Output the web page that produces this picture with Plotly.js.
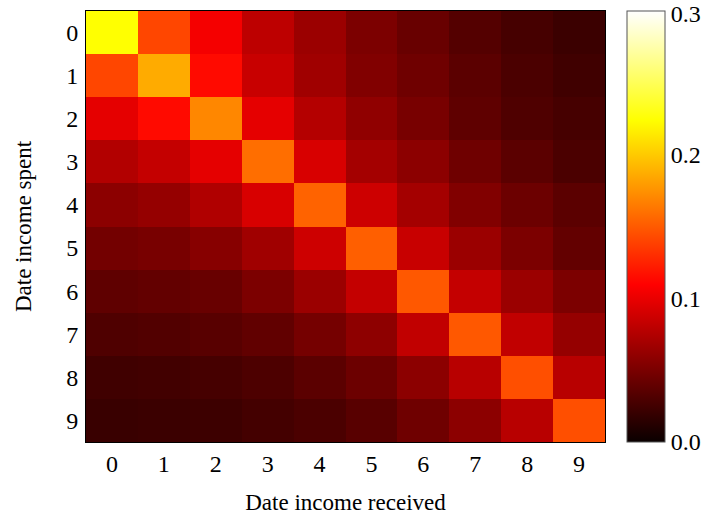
<!DOCTYPE html>
<html>
<head>
<meta charset="utf-8">
<script src="https://cdn.plot.ly/plotly-3.0.1.min.js"></script>
<style>html,body{margin:0;padding:0;background:#fff;}#chart{width:715px;height:523px;}</style>
</head>
<body>
<div id="chart"></div>
<script>
var dateReceived = [0, 1, 2, 3, 4, 5, 6, 7, 8, 9];
var dateSpent = [0, 1, 2, 3, 4, 5, 6, 7, 8, 9];
var row0 = [0.224, 0.141, 0.105, 0.080, 0.065, 0.051, 0.042, 0.033, 0.027, 0.022];
var row1 = [0.141, 0.186, 0.114, 0.085, 0.067, 0.053, 0.045, 0.036, 0.029, 0.024];
var row2 = [0.098, 0.114, 0.170, 0.098, 0.076, 0.060, 0.049, 0.038, 0.031, 0.027];
var row3 = [0.075, 0.083, 0.098, 0.159, 0.092, 0.069, 0.058, 0.045, 0.036, 0.029];
var row4 = [0.058, 0.062, 0.074, 0.092, 0.154, 0.087, 0.069, 0.053, 0.044, 0.036];
var row5 = [0.047, 0.049, 0.056, 0.067, 0.087, 0.152, 0.085, 0.065, 0.051, 0.040];
var row6 = [0.038, 0.040, 0.042, 0.051, 0.065, 0.083, 0.149, 0.083, 0.065, 0.051];
var row7 = [0.031, 0.032, 0.035, 0.039, 0.048, 0.059, 0.082, 0.149, 0.082, 0.062];
var row8 = [0.024, 0.025, 0.027, 0.030, 0.036, 0.044, 0.058, 0.078, 0.145, 0.078];
var row9 = [0.021, 0.022, 0.023, 0.026, 0.029, 0.035, 0.045, 0.058, 0.078, 0.145];
var colorbarTicks = [0.0, 0.1, 0.2, 0.3];
var colorbarTickText = ['0.0', '0.1', '0.2', '0.3'];

var zValues = [row0, row1, row2, row3, row4, row5, row6, row7, row8, row9];
var zMin = 0, zMax = 0.3;

var hotScale = [
  [0, 'rgb(10,0,0)'],
  [0.365079, 'rgb(255,0,0)'],
  [0.746032, 'rgb(255,255,0)'],
  [1, 'rgb(255,255,255)']
];

var fam = '"Liberation Serif", "DejaVu Serif", serif';
var tickFont = {family: fam, size: 24, color: '#000'};
var titleFont = {family: fam, size: 23, color: '#000'};

// keep the top label a touch inside so it is not cut at the page edge
var cbTickVals = colorbarTicks.map(function (v) {
  return Math.min(Math.max(v, zMin + 1e-6), zMax - 0.002);
});

var trace = {
  type: 'heatmap',
  x: dateReceived,
  y: dateSpent,
  z: zValues,
  zmin: zMin,
  zmax: zMax,
  colorscale: hotScale,
  showscale: true,
  colorbar: {
    thickness: 38,
    thicknessmode: 'pixels',
    len: 1,
    lenmode: 'fraction',
    x: 1.0424,
    xanchor: 'left',
    xpad: 0,
    y: 0.5,
    yanchor: 'middle',
    ypad: 0,
    outlinewidth: 1,
    outlinecolor: '#555',
    tickmode: 'array',
    tickvals: cbTickVals,
    ticktext: colorbarTickText,
    ticks: '',
    ticklen: 0,
    ticklabelstandoff: 4,
    ticklabeloverflow: 'allow',
    tickfont: tickFont
  }
};

var layout = {
  width: 715,
  height: 523,
  margin: {l: 86, r: 110, t: 11, b: 81},
  paper_bgcolor: '#fff',
  plot_bgcolor: '#fff',
  font: tickFont,
  xaxis: {
    tickmode: 'array',
    tickvals: dateReceived,
    ticktext: dateReceived.map(String),
    ticks: '',
    showline: true,
    mirror: true,
    linecolor: '#000',
    linewidth: 1,
    showgrid: false,
    zeroline: false,
    tickfont: tickFont,
    title: {text: 'Date income received', font: titleFont, standoff: 18}
  },
  yaxis: {
    autorange: 'reversed',
    tickmode: 'array',
    tickvals: dateSpent,
    ticktext: dateSpent.map(String),
    ticks: '',
    showline: true,
    mirror: true,
    linecolor: '#000',
    linewidth: 1,
    showgrid: false,
    zeroline: false,
    tickfont: tickFont,
    ticklabelstandoff: 2,
    title: {text: 'Date income spent', font: titleFont, standoff: 28}
  }
};

Plotly.newPlot('chart', [trace], layout, {displayModeBar: false, staticPlot: true});
</script>
</body>
</html>
